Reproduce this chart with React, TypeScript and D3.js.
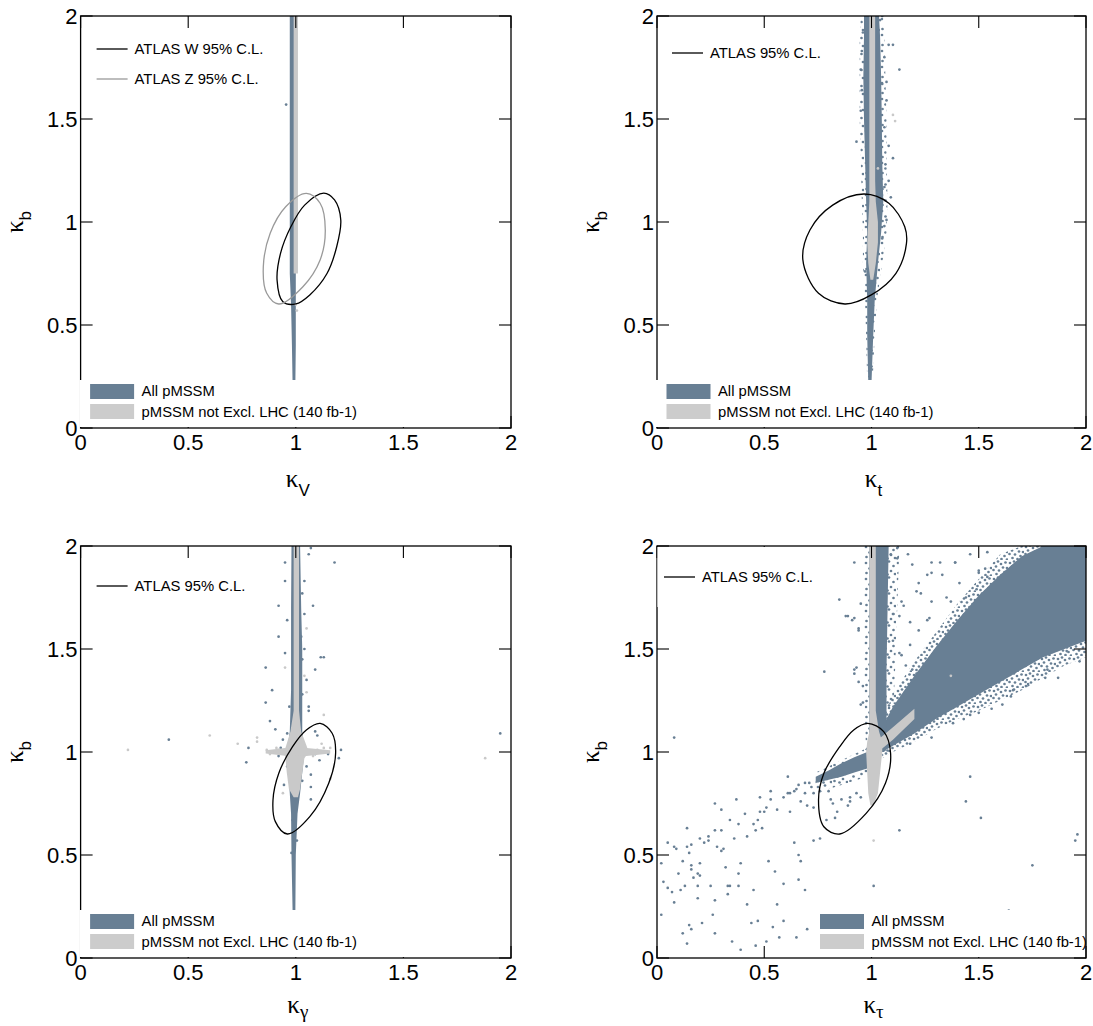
import React, { useEffect, useRef } from "react";
import * as d3 from "d3";

type Pt = [number, number];

const BLUE = "#687f94";
const GREY = "#c9c9c9";
const SANS = "Helvetica, 'Liberation Sans', Arial, sans-serif";
const SERIF = "'Liberation Serif', 'Times New Roman', serif";

const tickValues = [0, 0.5, 1, 1.5, 2];
const tickLabels = ["0", "0.5", "1", "1.5", "2"];
const xSubs = ["V", "t", "γ", "τ"];
const legendAll = "All pMSSM";
const legendNotExcl = "pMSSM not Excl. LHC (140 fb-1)";

// ---------- kappa_V ----------
const kvBlueKb = [0.22, 0.4, 0.6, 0.75, 1.0, 1.5, 2.0];
const kvBlueLo = [0.985, 0.982, 0.978, 0.972, 0.972, 0.972, 0.972];
const kvBlueHi = [0.998, 1.0, 1.0, 1.0, 1.0, 1.0, 1.0];
const kvGreyKb = [0.75, 2.0];
const kvGreyLo = [0.99, 0.99];
const kvGreyHi = [1.01, 1.01];
const kvBluePts: Pt[] = [[0.955, 1.57]];
const kvGreyPts: Pt[] = [[1.0, 0.6], [1.005, 0.57]];
const kvEllipseW: Pt[] = [[1.13, 1.14], [1.18, 1.107], [1.209, 1.01], [1.19, 0.88], [1.145, 0.75], [1.065, 0.646], [1.0, 0.602], [0.94, 0.613], [0.913, 0.718], [0.929, 0.848], [0.977, 0.977], [1.041, 1.082]];
const kvEllipseZ: Pt[] = [[1.049, 1.139], [1.113, 1.091], [1.137, 0.961], [1.113, 0.816], [1.033, 0.686], [0.921, 0.602], [0.865, 0.654], [0.849, 0.783], [0.881, 0.945], [0.953, 1.074]];

// ---------- kappa_t ----------
const ktBlueKb = [0.22, 0.45, 0.62, 0.8, 0.95, 1.1, 1.3, 1.5, 1.7, 1.9, 2.0];
const ktBlueLo = [0.985, 0.98, 0.98, 0.975, 0.98, 0.975, 0.97, 0.965, 0.962, 0.965, 0.965];
const ktBlueHi = [1.0, 1.008, 1.015, 1.03, 1.045, 1.055, 1.05, 1.048, 1.045, 1.04, 1.035];
const ktFringeLo = [0.98, 0.975, 0.97, 0.96, 0.96, 0.955, 0.95, 0.945, 0.945, 0.945, 0.95];
const ktFringeHi = [1.005, 1.015, 1.025, 1.05, 1.07, 1.075, 1.07, 1.07, 1.065, 1.06, 1.055];
const ktGreyKb = [0.72, 0.8, 0.9, 1.0, 1.1, 1.2, 2.0];
const ktGreyLo = [0.995, 0.985, 0.98, 0.985, 0.99, 0.99, 0.99];
const ktGreyHi = [1.008, 1.02, 1.03, 1.03, 1.02, 1.017, 1.017];
const ktBluePts: Pt[] = [[0.93, 1.39], [0.95, 1.74], [1.1, 1.31], [1.08, 1.86], [1.1, 1.86], [1.13, 1.74], [1.07, 1.01], [1.05, 0.92], [0.97, 0.76], [1.08, 1.37], [1.09, 1.12], [1.06, 1.8], [1.05, 1.67], [1.07, 1.59], [1.06, 1.17], [1.05, 1.11], [1.08, 1.2], [1.07, 1.68], [0.95, 1.54], [0.955, 1.64], [0.955, 1.83], [0.96, 1.92], [1.04, 1.98], [1.05, 2.0], [1.06, 1.46], [1.065, 1.28], [1.06, 0.98]];
const ktGreyPts: Pt[] = [[1.1, 1.52], [1.11, 1.49], [1.03, 1.26], [1.02, 0.97]];
const ktEllipse: Pt[] = [[0.966, 1.136], [1.081, 1.091], [1.155, 0.977], [1.163, 0.896], [1.114, 0.751], [0.999, 0.646], [0.876, 0.602], [0.753, 0.654], [0.68, 0.816], [0.713, 0.961], [0.819, 1.082]];

// ---------- kappa_gamma ----------
const kgBlueKb = [0.23, 0.5, 0.7, 0.8, 0.9, 1.0, 1.1, 1.3, 1.5, 1.7, 2.0];
const kgBlueLo = [0.985, 0.98, 0.978, 0.972, 0.965, 0.96, 0.972, 0.978, 0.978, 0.978, 0.98];
const kgBlueHi = [0.998, 1.0, 1.008, 1.02, 1.03, 1.04, 1.03, 1.03, 1.03, 1.025, 1.02];
const kgGreyKb = [0.78, 0.82, 0.9, 0.97, 1.0, 1.03, 1.1, 1.2, 2.0];
const kgGreyLo = [0.99, 0.968, 0.958, 0.952, 0.945, 0.955, 0.975, 0.99, 0.99];
const kgGreyHi = [1.01, 1.02, 1.03, 1.04, 1.06, 1.05, 1.025, 1.015, 1.015];
const kgStreakK = [0.86, 0.95, 1.05, 1.16];
const kgStreakLo = [0.993, 0.982, 0.98, 0.993];
const kgStreakHi = [1.008, 1.02, 1.02, 1.008];
const kgBluePts: Pt[] = [[0.41, 1.06], [0.77, 0.95], [0.78, 1.02], [1.95, 1.09], [1.48, 0.21], [1.18, 1.92], [0.86, 1.41], [0.89, 1.3], [0.86, 1.24], [0.88, 1.15], [0.905, 1.11], [0.92, 1.71], [0.92, 1.56], [0.95, 1.92], [0.95, 1.83], [1.116, 1.46], [1.13, 1.46], [1.08, 1.71], [1.09, 1.4], [1.2, 0.97], [1.21, 1.01], [1.07, 0.77], [1.07, 0.83], [0.945, 0.84], [1.06, 1.96], [1.07, 1.99], [1.04, 1.83], [1.04, 1.5], [1.02, 1.15], [1.09, 1.1], [1.1, 1.08], [1.06, 1.2], [0.96, 1.64], [0.95, 1.48], [1.03, 1.77], [1.04, 1.67], [1.025, 1.56], [1.03, 1.45], [1.05, 1.35], [1.03, 1.28], [0.97, 1.22], [1.06, 1.22], [0.96, 1.09], [0.94, 1.06], [1.09, 0.99], [1.11, 0.96], [1.07, 0.89], [1.03, 0.86], [0.97, 0.86], [0.985, 0.67], [1.005, 0.57], [0.98, 0.51], [0.93, 1.02], [0.92, 0.98], [1.12, 1.0], [1.15, 0.99], [0.96, 0.93], [1.05, 0.93]];
const kgGreyPts: Pt[] = [[0.22, 1.01], [0.6, 1.08], [0.73, 1.04], [0.82, 1.07], [0.82, 1.05], [0.865, 1.01], [1.88, 0.97], [1.13, 1.18], [1.16, 1.02], [1.16, 0.87], [0.94, 0.8], [1.05, 1.6], [1.04, 1.37], [1.12, 1.04], [0.9, 1.0], [0.92, 1.01], [1.1, 1.01], [1.14, 1.0], [0.95, 1.41], [1.05, 1.29], [0.88, 0.99], [0.91, 1.02], [1.08, 0.98], [1.13, 1.02]];
const kgEllipse: Pt[] = [[1.113, 1.139], [1.169, 1.091], [1.185, 0.994], [1.153, 0.848], [1.065, 0.686], [0.961, 0.602], [0.905, 0.662], [0.894, 0.767], [0.921, 0.897], [0.985, 1.026], [1.049, 1.107]];

// ---------- kappa_tau ----------
const ktauBlueKb = [1.0, 1.15, 1.4, 1.7, 2.0];
const ktauBlueLo = [0.99, 0.99, 0.99, 0.99, 0.99];
const ktauBlueHi = [1.06, 1.07, 1.07, 1.075, 1.08];
const ktauFringeLo = [0.975, 0.97, 0.965, 0.965, 0.965];
const ktauFringeHi = [1.08, 1.1, 1.11, 1.12, 1.13];
const ktauGreyKb = [0.74, 0.8, 0.9, 1.0, 1.05, 1.1, 1.2, 2.0];
const ktauGreyLo = [0.995, 0.985, 0.98, 0.975, 0.98, 0.99, 0.99, 0.99];
const ktauGreyHi = [1.008, 1.03, 1.04, 1.05, 1.05, 1.035, 1.02, 1.02];
const ktauArmGreyK = [1.03, 1.1, 1.2];
const ktauArmGreyLo = [1.0, 1.06, 1.16];
const ktauArmGreyHi = [1.06, 1.12, 1.21];
const ktauArmK = [0.74, 0.8, 0.86, 0.92, 0.98];
const ktauArmLo = [0.85, 0.865, 0.88, 0.9, 0.92];
const ktauArmHi = [0.88, 0.91, 0.945, 0.975, 1.0];
const ktauArmHaloLo = [0.8, 0.82, 0.84, 0.86, 0.88];
const ktauArmHaloHi = [0.9, 0.93, 0.96, 0.99, 1.02];
const ktauCloudK = [1.05, 1.1, 1.2, 1.3, 1.4, 1.5, 1.6, 1.7, 1.8, 1.9, 2.0];
const ktauCloudLo = [1.0, 1.03, 1.09, 1.16, 1.22, 1.28, 1.34, 1.4, 1.46, 1.5, 1.54];
const ktauCloudHi = [1.12, 1.22, 1.37, 1.51, 1.64, 1.76, 1.86, 1.95, 2.0, 2.0, 2.0];
const ktauHaloLo = [0.97, 1.0, 1.05, 1.11, 1.16, 1.2, 1.25, 1.3, 1.36, 1.42, 1.46];
const ktauHaloHi = [1.15, 1.28, 1.44, 1.58, 1.72, 1.84, 1.96, 2.0, 2.0, 2.0, 2.0];
const ktauBluePts: Pt[] = [
  [0.02, 0.46], [0.02, 0.21], [0.03, 0.37], [0.05, 0.56], [0.05, 0.34], [0.07, 0.32], [0.08, 0.27], [0.08, 0.54], [0.09, 0.53], [0.1, 0.41],
  [0.11, 0.33], [0.12, 0.47], [0.12, 0.12], [0.13, 0.35], [0.14, 0.63], [0.14, 0.54], [0.15, 0.16], [0.14, 0.07], [0.15, 0.51], [0.16, 0.45],
  [0.16, 0.43], [0.16, 0.14], [0.16, 0.55], [0.17, 0.39], [0.19, 0.35], [0.19, 0.29], [0.19, 0.41], [0.2, 0.46], [0.2, 0.58], [0.2, 0.4],
  [0.21, 0.17], [0.22, 0.56], [0.24, 0.57], [0.24, 0.59], [0.25, 0.35], [0.26, 0.21], [0.27, 0.62], [0.27, 0.12], [0.27, 0.28], [0.27, 0.75],
  [0.28, 0.54], [0.3, 0.52], [0.3, 0.62], [0.3, 0.72], [0.31, 0.53], [0.32, 0.44], [0.33, 0.35], [0.33, 0.31], [0.34, 0.67], [0.34, 0.35],
  [0.35, 0.08], [0.36, 0.58], [0.37, 0.77], [0.38, 0.41], [0.38, 0.65], [0.38, 0.35], [0.39, 0.04], [0.39, 0.46], [0.41, 0.7], [0.42, 0.59],
  [0.42, 0.26], [0.44, 0.17], [0.45, 0.33], [0.45, 0.65], [0.46, 0.06], [0.46, 0.62], [0.47, 0.18], [0.47, 0.67], [0.48, 0.78], [0.48, 0.71],
  [0.49, 0.63], [0.5, 0.71], [0.51, 0.73], [0.51, 0.08], [0.52, 0.47], [0.53, 0.81], [0.53, 0.77], [0.54, 0.15], [0.55, 0.42], [0.56, 0.72],
  [0.56, 0.26], [0.57, 0.1], [0.59, 0.36], [0.59, 0.18], [0.59, 0.78], [0.61, 0.8], [0.61, 0.88], [0.62, 0.71], [0.64, 0.56], [0.65, 0.1],
  [0.65, 0.82], [0.66, 0.5], [0.66, 0.38], [0.67, 0.76], [0.67, 0.47], [0.69, 0.8], [0.69, 0.33], [0.7, 0.14], [0.7, 0.74], [0.71, 0.85],
  [0.73, 0.57], [0.73, 0.73], [0.76, 0.58], [0.79, 0.67], [0.83, 0.68], [0.84, 0.71], [0.81, 0.77], [0.86, 0.77], [0.89, 0.74], [0.9, 0.78],
  [0.95, 0.78], [1.01, 0.35], [0.73, 0.8], [0.76, 0.81], [0.8, 0.81], [0.82, 0.75], [0.9, 0.76], [0.93, 0.8], [0.72, 0.83], [0.69, 0.85],
  [0.66, 0.84], [0.64, 0.81], [0.62, 0.8], [0.08, 1.07], [0.78, 1.39], [0.85, 1.74], [0.88, 1.66], [0.91, 1.64], [0.94, 1.6], [0.95, 1.72],
  [0.92, 1.4], [0.95, 1.23], [0.92, 1.92], [0.89, 1.66], [0.92, 1.65], [0.94, 1.59], [0.93, 1.41], [0.92, 1.38], [0.94, 1.34], [0.96, 1.24],
  [0.96, 1.32], [1.09, 1.96], [1.12, 1.94], [1.17, 1.96], [1.19, 1.91], [1.32, 1.92], [1.39, 1.92], [1.46, 1.96], [1.26, 1.86], [1.28, 1.87],
  [1.33, 1.86], [1.22, 1.82], [1.23, 1.77], [1.21, 1.78], [1.14, 1.73], [1.15, 1.71], [1.18, 1.63], [1.1, 1.67], [1.13, 1.66], [1.26, 1.64],
  [1.27, 1.65], [1.28, 1.73], [1.35, 1.75], [1.37, 1.73], [1.41, 1.82], [1.44, 1.75], [1.49, 1.79], [1.5, 1.88], [1.53, 1.89], [1.54, 1.85],
  [1.18, 1.52], [1.13, 1.48], [1.16, 1.42], [1.19, 1.4], [1.14, 1.47], [1.21, 1.38], [1.1, 1.54], [1.22, 1.59], [1.72, 1.32], [1.66, 1.3],
  [1.61, 1.23], [1.56, 1.21], [1.5, 1.19], [1.43, 1.16], [1.46, 1.18], [1.87, 1.36], [1.81, 1.36], [1.46, 0.88], [1.44, 0.76], [1.51, 0.68],
  [1.13, 0.62], [1.96, 0.6], [1.95, 0.57], [1.75, 0.45], [1.64, 0.23], [1.91, 1.49], [1.97, 1.44], [1.82, 1.4], [1.73, 1.33], [1.65, 1.27],
  [1.38, 1.14], [1.28, 1.07], [1.18, 1.04], [1.28, 1.92], [1.39, 1.92], [1.54, 1.97], [1.5, 1.87], [1.12, 1.99],
];
const ktauGreyPts: Pt[] = [[1.01, 0.57], [1.37, 1.37], [1.0, 0.8]];
const ktauEllipse: Pt[] = [[0.983, 1.139], [1.057, 1.099], [1.089, 0.994], [1.065, 0.848], [0.975, 0.702], [0.852, 0.602], [0.778, 0.637], [0.753, 0.767], [0.778, 0.897], [0.852, 1.026], [0.917, 1.107]];

// ---------- drawing helpers ----------
interface Band { along: number[]; lo: number[]; hi: number[]; vertical: boolean; fill: string }
interface LineEntry { label: string; color: string; pts: Pt[] }
interface Panel {
  x0: number; x1: number; y0: number; y1: number;
  sub: string; greekSub: boolean; titleDy: number;
  bands: Band[]; greyBands: Band[];
  bluePts: Pt[]; greyPts: Pt[];
  lines: LineEntry[];
  topLeg: { dy: number; dx: number; box: boolean };
  botLegDx: number;
}

const vb = (along: number[], lo: number[], hi: number[], fill: string): Band => ({ along, lo, hi, vertical: true, fill });
const hb = (along: number[], lo: number[], hi: number[], fill: string): Band => ({ along, lo, hi, vertical: false, fill });

const panels: Panel[] = [
  {
    x0: 80.6, x1: 511, y0: 16, y1: 428, sub: xSubs[0], greekSub: false, titleDy: 59,
    bands: [vb(kvBlueKb, kvBlueLo, kvBlueHi, BLUE)],
    greyBands: [vb(kvGreyKb, kvGreyLo, kvGreyHi, GREY)],
    bluePts: kvBluePts, greyPts: kvGreyPts,
    lines: [
      { label: "ATLAS W 95% C.L.", color: "#000", pts: kvEllipseW },
      { label: "ATLAS Z 95% C.L.", color: "#999", pts: kvEllipseZ },
    ],
    topLeg: { dy: 33, dx: 16, box: false }, botLegDx: 9.5,
  },
  {
    x0: 657, x1: 1086, y0: 16, y1: 428, sub: xSubs[1], greekSub: false, titleDy: 59,
    bands: [vb(ktBlueKb, ktFringeLo, ktFringeHi, "url(#sparseDots)"), vb(ktBlueKb, ktBlueLo, ktBlueHi, BLUE)],
    greyBands: [vb(ktGreyKb, ktGreyLo, ktGreyHi, GREY)],
    bluePts: ktBluePts, greyPts: ktGreyPts,
    lines: [{ label: "ATLAS 95% C.L.", color: "#000", pts: ktEllipse }],
    topLeg: { dy: 37, dx: 15, box: false }, botLegDx: 9.5,
  },
  {
    x0: 80.6, x1: 511, y0: 546, y1: 958, sub: xSubs[2], greekSub: true, titleDy: 55,
    bands: [vb(kgBlueKb, kgBlueLo, kgBlueHi, BLUE)],
    greyBands: [vb(kgGreyKb, kgGreyLo, kgGreyHi, GREY), hb(kgStreakK, kgStreakLo, kgStreakHi, GREY)],
    bluePts: kgBluePts, greyPts: kgGreyPts,
    lines: [{ label: "ATLAS 95% C.L.", color: "#000", pts: kgEllipse }],
    topLeg: { dy: 40, dx: 16, box: false }, botLegDx: 9.5,
  },
  {
    x0: 657, x1: 1086, y0: 546, y1: 958, sub: xSubs[3], greekSub: true, titleDy: 55,
    bands: [
      hb(ktauCloudK, ktauHaloLo, ktauHaloHi, "url(#denseDots)"),
      vb(ktauBlueKb, ktauFringeLo, ktauFringeHi, "url(#sparseDots)"),
      hb(ktauArmK, ktauArmHaloLo, ktauArmHaloHi, "url(#sparseDots)"),
      hb(ktauCloudK, ktauCloudLo, ktauCloudHi, BLUE),
      vb(ktauBlueKb, ktauBlueLo, ktauBlueHi, BLUE),
      hb(ktauArmK, ktauArmLo, ktauArmHi, BLUE),
    ],
    greyBands: [vb(ktauGreyKb, ktauGreyLo, ktauGreyHi, GREY), hb(ktauArmGreyK, ktauArmGreyLo, ktauArmGreyHi, GREY)],
    bluePts: ktauBluePts, greyPts: ktauGreyPts,
    lines: [{ label: "ATLAS 95% C.L.", color: "#000", pts: ktauEllipse }],
    topLeg: { dy: 31, dx: 7, box: true }, botLegDx: 163,
  },
];

// dot textures for the dense-but-not-solid parts of the scatter
const sparseTile: Pt[] = [[2, 3], [9, 1.5], [13.5, 6], [5.5, 8.5], [11, 11], [2.5, 13], [7.5, 14.5], [15, 14]];
const denseTile: Pt[] = [[2, 3], [6, 1.5], [9, 4], [13.5, 2.5], [4, 6.5], [11, 7.5], [15, 8], [1.5, 10], [7, 10.5], [12.5, 12], [4.5, 14], [9.5, 15], [15, 15.5]];

const App: React.FC = () => {
  const svgRef = useRef<SVGSVGElement | null>(null);

  useEffect(() => {
    if (!svgRef.current) return;
    const root = d3.select(svgRef.current);
    root.selectAll("*").remove();
    root.attr("width", 1093).attr("height", 1026);

    const defs = root.append("defs");
    ([["sparseDots", sparseTile], ["denseDots", denseTile]] as [string, Pt[]][]).forEach(([id, tile]) => {
      const pat = defs.append("pattern").attr("id", id)
        .attr("patternUnits", "userSpaceOnUse").attr("width", 16).attr("height", 16);
      tile.forEach(([cx, cy]) =>
        pat.append("circle").attr("cx", cx).attr("cy", cy).attr("r", 1.35).attr("fill", BLUE));
    });

    panels.forEach((p, pi) => {
      const x = d3.scaleLinear().domain([0, 2]).range([p.x0, p.x1]);
      const y = d3.scaleLinear().domain([0, 2]).range([p.y1, p.y0]);

      defs.append("clipPath").attr("id", `clip${pi}`)
        .append("rect").attr("x", p.x0).attr("y", p.y0)
        .attr("width", p.x1 - p.x0).attr("height", p.y1 - p.y0);

      const g = root.append("g");
      const plot = g.append("g").attr("clip-path", `url(#clip${pi})`);

      const bandPath = (b: Band) => {
        const idx = d3.range(b.along.length);
        if (b.vertical) {
          return d3.area<number>().y(i => y(b.along[i])).x0(i => x(b.lo[i])).x1(i => x(b.hi[i]))(idx) || "";
        }
        return d3.area<number>().x(i => x(b.along[i])).y0(i => y(b.lo[i])).y1(i => y(b.hi[i]))(idx) || "";
      };

      p.bands.forEach(b => plot.append("path").attr("d", bandPath(b)).attr("fill", b.fill));
      plot.selectAll(".bp").data(p.bluePts).enter().append("circle")
        .attr("cx", d => x(d[0])).attr("cy", d => y(d[1])).attr("r", 1.35).attr("fill", BLUE);
      p.greyBands.forEach(b => plot.append("path").attr("d", bandPath(b)).attr("fill", b.fill));
      plot.selectAll(".gp").data(p.greyPts).enter().append("circle")
        .attr("cx", d => x(d[0])).attr("cy", d => y(d[1])).attr("r", 1.35).attr("fill", GREY);

      // ATLAS contours
      p.lines.forEach(l => {
        plot.append("path")
          .attr("d", d3.line<Pt>().x(d => x(d[0])).y(d => y(d[1])).curve(d3.curveCatmullRomClosed)(l.pts) || "")
          .attr("fill", "none").attr("stroke", l.color).attr("stroke-width", 1.3);
      });

      // frame and ticks
      g.append("rect").attr("x", p.x0).attr("y", p.y0)
        .attr("width", p.x1 - p.x0).attr("height", p.y1 - p.y0)
        .attr("fill", "none").attr("stroke", "#000").attr("stroke-width", 1.3);
      const tl = 12;
      tickValues.forEach(v => {
        g.append("line").attr("x1", x(v)).attr("x2", x(v)).attr("y1", p.y1).attr("y2", p.y1 - tl).attr("stroke", "#000").attr("stroke-width", 1.1);
        g.append("line").attr("x1", x(v)).attr("x2", x(v)).attr("y1", p.y0).attr("y2", p.y0 + tl).attr("stroke", "#000").attr("stroke-width", 1.1);
        g.append("line").attr("y1", y(v)).attr("y2", y(v)).attr("x1", p.x0).attr("x2", p.x0 + tl).attr("stroke", "#000").attr("stroke-width", 1.1);
        g.append("line").attr("y1", y(v)).attr("y2", y(v)).attr("x1", p.x1).attr("x2", p.x1 - tl).attr("stroke", "#000").attr("stroke-width", 1.1);
      });

      // top legend (contours)
      if (p.topLeg.box) {
        g.append("rect").attr("x", p.x0 + 0.4).attr("y", p.y0 + 1).attr("width", 140).attr("height", 60).attr("fill", "#fff");
      }
      p.lines.forEach((l, i) => {
        const ly = p.y0 + p.topLeg.dy + i * 30;
        g.append("line").attr("x1", p.x0 + p.topLeg.dx).attr("x2", p.x0 + p.topLeg.dx + 31)
          .attr("y1", ly).attr("y2", ly).attr("stroke", l.color).attr("stroke-width", 1.3);
        g.append("text").attr("x", p.x0 + p.topLeg.dx + 38).attr("y", ly + 5)
          .attr("font-family", SANS).attr("font-size", 14.8).attr("fill", "#000").text(l.label);
      });

      // bottom legend (samples)
      const bx = p.x0 + p.botLegDx;
      g.append("rect").attr("x", bx - 10.5).attr("y", p.y0 + 364)
        .attr("width", p.x1 - 1 - (bx - 10.5)).attr("height", p.y1 - 1 - (p.y0 + 364)).attr("fill", "#fff");
      [[legendAll, BLUE], [legendNotExcl, "#cccccc"]].forEach(([label, col], i) => {
        g.append("rect").attr("x", bx).attr("y", p.y0 + 368 + i * 20).attr("width", 44).attr("height", 15).attr("fill", col);
        g.append("text").attr("x", bx + 51.5).attr("y", p.y0 + 380 + i * 20.5)
          .attr("font-family", SANS).attr("font-size", 14.8).attr("fill", "#000").text(label);
      });

      // tick labels
      tickValues.forEach((v, i) => {
        g.append("text").attr("x", x(v)).attr("y", p.y1 + 22).attr("text-anchor", "middle")
          .attr("font-family", SANS).attr("font-size", 22).attr("fill", "#000").text(tickLabels[i]);
        g.append("text").attr("x", p.x0 - 3).attr("y", y(v) + 8).attr("text-anchor", "end")
          .attr("font-family", SANS).attr("font-size", 22).attr("fill", "#000").text(tickLabels[i]);
      });

      // axis titles
      const xt = g.append("text").attr("x", (p.x0 + p.x1) / 2 + 2).attr("y", p.y1 + p.titleDy)
        .attr("text-anchor", "middle").attr("fill", "#000");
      xt.append("tspan").attr("font-family", SERIF).attr("font-size", 25).text("κ");
      xt.append("tspan").attr("font-family", p.greekSub ? SERIF : SANS).attr("font-size", p.greekSub ? 19 : 17)
        .attr("dy", p.greekSub ? 5 : 9).text(p.sub);

      const yt = g.append("text").attr("transform", `translate(${p.x0 - 57.6},${p.y0 + 206}) rotate(-90)`)
        .attr("text-anchor", "middle").attr("fill", "#000");
      yt.append("tspan").attr("font-family", SERIF).attr("font-size", 25).text("κ");
      yt.append("tspan").attr("font-family", SANS).attr("font-size", 17).attr("dy", 8).text("b");
    });
  }, []);

  return (
    <div style={{ position: "absolute", left: 0, top: 0, background: "#fff" }}>
      <svg ref={svgRef}></svg>
    </div>
  );
};

export default App;
